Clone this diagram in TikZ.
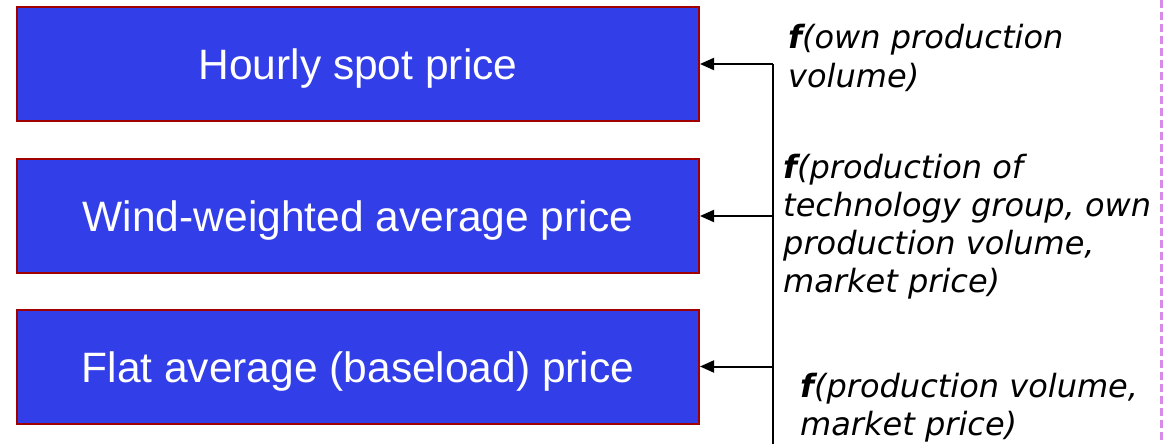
\documentclass[tikz,border=0pt]{standalone}
\usepackage{fontspec}
\usetikzlibrary{arrows.meta}
\newfontfamily\boxfont{Liberation Sans}
\newfontfamily\notefont{DejaVu Sans}
\definecolor{boxblue}{RGB}{50,62,232}
\definecolor{boxedge}{RGB}{160,0,0}
\definecolor{guide}{RGB}{214,140,230}
\tikzset{
  pricebox/.style={draw=boxedge, line width=2pt, fill=boxblue, text=white,
    minimum width=682pt, minimum height=114pt, inner sep=0pt,
    text height=31pt, text depth=0pt,
    font=\boxfont\fontsize{42.5}{48}\selectfont},
  feed/.style={line width=2pt, -{Triangle[length=14pt,width=12pt]}},
  bus/.style={line width=2pt},
  note/.style={anchor=base west, inner sep=0pt, font=\notefont\itshape\fontsize{32}{38.3}\selectfont}
}
\newcommand{\fn}{{\bfseries f}}
\begin{document}
\begin{tikzpicture}[x=1pt,y=-1pt]
  \useasboundingbox (0,0) rectangle (1176,444);

  % price definitions
  \node[pricebox] (hourly) at (358,64) {Hourly spot price};
  \node[pricebox] (wind)   at (358,216) {Wind-weighted average price};
  \node[pricebox] (flat)   at (358,366.5) {Flat average (baseload) price};

  % vertical feed line and its branches
  \coordinate (bustop) at (773,64);
  \coordinate (busbot) at (773,444);
  \draw[bus] (busbot) -- (bustop);
  \draw[feed] (bustop) -- (hourly.east);
  \draw[feed] (wind.east -| bustop) -- (wind.east);
  \draw[feed] (flat.east -| bustop) -- (flat.east);

  % function labels
  \node[note] (n1) at (788,49)
    {\begin{tabular}[t]{@{}l@{}}\fn(own production\\ volume)\end{tabular}};
  \node[note] (n2) at (783,178)
    {\begin{tabular}[t]{@{}l@{}}\fn(production of\\ technology group, own\\ production volume,\\ market price)\end{tabular}};
  \node[note] (n3) at (800,397)
    {\begin{tabular}[t]{@{}l@{}}\fn(production volume,\\ market price)\end{tabular}};

  % page guide on the right
  \coordinate (gtop) at (1161.5,0);
  \coordinate (gbot) at (1161.5,444);
  \draw[guide, line width=2.5pt, dash pattern=on 8pt off 4pt] (gtop) -- (gbot);
\end{tikzpicture}
\end{document}
